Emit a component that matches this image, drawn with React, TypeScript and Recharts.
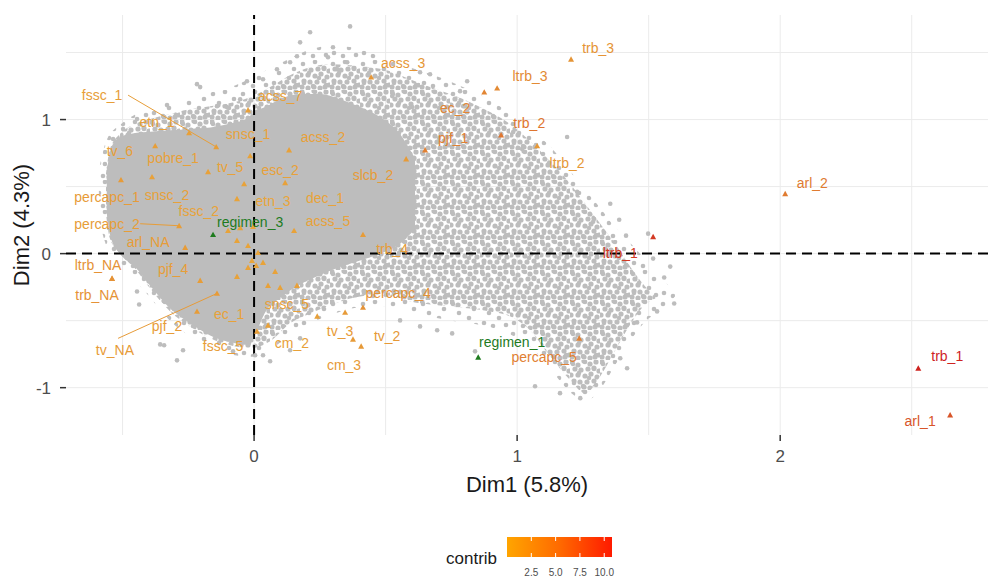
import React from 'react';
import { ComposedChart, XAxis, YAxis, CartesianGrid, Area, Scatter, ReferenceLine } from 'recharts';

const FONT = '"Liberation Sans", Arial, sans-serif';

// individuals cloud, dense core: x -> [low, high]
const coreX = [-0.56, -0.545, -0.51, -0.452, -0.395, -0.319, -0.243, -0.167, -0.091, -0.034, 0.004, 0.042, 0.099, 0.175, 0.251, 0.327, 0.403, 0.479, 0.555, 0.612];
const coreLow = [0.3, 0.12, 0.0, -0.1, -0.24, -0.41, -0.52, -0.61, -0.66, -0.68, -0.6, -0.44, -0.33, -0.23, -0.16, -0.1, -0.052, 0.0, 0.074, 0.186];
const coreHigh = [0.6, 0.78, 0.87, 0.9, 0.91, 0.92, 0.93, 0.94, 0.97, 1.0, 1.06, 1.093, 1.152, 1.19, 1.19, 1.152, 1.093, 1.019, 0.892, 0.706];

// individuals cloud, body around the core
const bodyX = [-0.563, -0.548, -0.51, -0.452, -0.395, -0.319, -0.243, -0.167, -0.091, -0.015, 0.061, 0.137, 0.213, 0.289, 0.365, 0.441, 0.517, 0.593, 0.669, 0.745, 0.821, 0.897, 0.973, 1.049, 1.125, 1.202, 1.259, 1.316, 1.373, 1.43, 1.487, 1.525];
const bodyLow = [0.297, 0.112, 0.0, -0.112, -0.26, -0.431, -0.543, -0.632, -0.684, -0.706, -0.654, -0.52, -0.446, -0.387, -0.335, -0.312, -0.312, -0.357, -0.379, -0.394, -0.409, -0.431, -0.468, -0.572, -0.766, -0.944, -1.041, -0.914, -0.721, -0.528, -0.379, -0.335];
const bodyHigh = [0.595, 0.781, 0.892, 0.967, 1.004, 1.041, 1.078, 1.1, 1.123, 1.167, 1.242, 1.331, 1.39, 1.413, 1.405, 1.39, 1.361, 1.301, 1.242, 1.19, 1.13, 1.056, 0.967, 0.84, 0.691, 0.52, 0.372, 0.223, 0.074, -0.097, -0.245, -0.32];

// thin outer fringe of the cloud
const fringeX = [-0.59, -0.56, -0.51, -0.45, -0.39, -0.32, -0.24, -0.17, -0.09, -0.02, 0.06, 0.14, 0.21, 0.29, 0.37, 0.44, 0.52, 0.59, 0.67, 0.75, 0.82, 0.9, 0.97, 1.05, 1.13, 1.2, 1.26, 1.32, 1.37, 1.43, 1.49, 1.55, 1.6];
const fringeLow = [0.25, 0.05, -0.07, -0.2, -0.34, -0.5, -0.62, -0.7, -0.75, -0.77, -0.72, -0.6, -0.52, -0.46, -0.41, -0.39, -0.4, -0.44, -0.47, -0.5, -0.52, -0.55, -0.6, -0.69, -0.87, -1.03, -1.1, -1.0, -0.84, -0.65, -0.5, -0.42, -0.32];
const fringeHigh = [0.62, 0.85, 0.96, 1.04, 1.08, 1.12, 1.16, 1.2, 1.24, 1.3, 1.38, 1.46, 1.52, 1.55, 1.54, 1.5, 1.44, 1.39, 1.34, 1.28, 1.22, 1.14, 1.05, 0.93, 0.79, 0.62, 0.47, 0.33, 0.2, 0.08, -0.05, -0.18, -0.3];

// stray individuals around the cloud
const strayX = [0.365, 0.213, 0.175, 0.3, 0.281, 0.163, 0.137, 0.087, 0.034, -0.027, 0.316, 0.354, -0.103, -0.141, -0.053, -0.217, -0.205, -0.331, -0.445, -0.498, -0.536, -0.567, 0.525, 0.631, 0.669, 0.81, 0.783, 0.601, 0.795, 0.985, 1.019, 1.19, 1.228, 1.289, 1.354, 1.388, 1.414, 1.498, 1.517, 1.582, 1.559, 1.597, 1.532, 1.456, 1.392, 1.418, 1.24, 1.163, 1.068, 0.84, 0.753, 0.696, 0.631, 0.555, -0.445, -0.437, -0.357, -0.342, -0.27, -0.293, -0.08, 0.004, 0.034, 0.061, 0.137, 0.175];
const strayY = [1.695, 1.651, 1.576, 1.539, 1.465, 1.472, 1.428, 1.375, 1.301, 1.286, 1.375, 1.428, 1.093, 1.1, 1.152, 1.264, 1.242, 1.108, 1.004, 0.929, 0.855, 0.669, 1.175, 1.353, 1.338, 1.286, 1.212, 1.093, 1.1, 0.907, 0.781, 0.87, 0.461, 0.238, 0.372, 0.253, 0.134, 0.149, -0.037, -0.097, -0.178, -0.372, -0.431, -0.513, -0.781, -0.855, -1.078, -1.041, -0.989, -0.729, -0.595, -0.572, -0.543, -0.498, -0.283, -0.379, -0.677, -0.684, -0.721, -0.796, -0.729, -0.758, -0.758, -0.803, -0.721, -0.632];

// variable categories
const catNames = ['fssc_1', 'etn_1', 'tv_6', 'pobre_1', 'snsc_2', 'percapc_1', 'snsc_1', 'acss_7', 'tv_5', 'esc_2', 'acss_2', 'etn_3', 'dec_1', 'fssc_2', 'percapc_2', 'acss_5', 'arl_NA', 'slcb_2', 'acss_3', 'ec_2', 'ltrb_3', 'pjf_1', 'trb_2', 'ltrb_2', 'trb_3', 'trb_4', 'ltrb_1', 'arl_2', 'trb_1', 'arl_1', 'percapc_5', 'percapc_4', 'tv_3', 'tv_2', 'cm_3', 'cm_2', 'snsc_5', 'ec_1', 'fssc_5', 'pjf_2', 'tv_NA', 'pjf_4', 'ltrb_NA', 'trb_NA'];
const catX = [-0.144, -0.247, -0.376, -0.175, -0.388, -0.506, -0.015, -0.023, -0.038, 0.118, 0.133, -0.004, -0.065, -0.099, -0.285, 0.152, -0.262, 0.578, 0.445, 0.875, 0.924, 0.65, 0.939, 1.076, 1.205, 0.414, 1.517, 2.019, 2.525, 2.646, 1.236, 0.414, 0.346, 0.407, 0.376, 0.053, 0.163, -0.065, 0.011, -0.217, -0.141, -0.205, -0.54, -0.54];
const catY = [0.796, 0.9, 0.803, 0.61, 0.572, 0.55, 0.729, 1.071, 0.52, 0.528, 0.773, 0.201, 0.409, 0.171, 0.208, 0.171, 0.045, 0.706, 1.316, 1.204, 1.234, 0.773, 0.885, 0.803, 1.45, 0.141, 0.126, 0.446, -0.855, -1.204, -0.632, -0.401, -0.439, -0.691, -0.639, -0.535, -0.238, -0.171, -0.58, -0.431, -0.297, -0.201, -0.186, -0.186];
const catContrib = [0.6, 0.5, 0.6, 0.4, 0.4, 0.9, 0.3, 0.5, 0.3, 0.4, 0.4, 0.1, 0.2, 0.2, 0.7, 0.3, 0.8, 0.9, 1.2, 2.6, 2.2, 3.0, 3.8, 1.1, 1.4, 0.8, 8.6, 3.4, 10.4, 6.4, 3.0, 1.6, 0.9, 1.0, 0.9, 0.4, 0.5, 0.3, 0.6, 0.8, 0.9, 0.7, 1.6, 1.6];
const catLabelX = [-0.578, -0.369, -0.51, -0.308, -0.331, -0.559, -0.023, 0.099, -0.091, 0.099, 0.262, 0.072, 0.27, -0.21, -0.559, 0.281, -0.403, 0.452, 0.567, 0.764, 1.049, 0.757, 1.046, 1.19, 1.308, 0.525, 1.392, 2.122, 2.635, 2.532, 1.103, 0.548, 0.327, 0.506, 0.342, 0.144, 0.125, -0.095, -0.118, -0.331, -0.529, -0.308, -0.593, -0.597];
const catLabelY = [1.182, 0.981, 0.766, 0.714, 0.439, 0.424, 0.892, 1.175, 0.647, 0.625, 0.87, 0.394, 0.416, 0.32, 0.223, 0.245, 0.089, 0.587, 1.42, 1.086, 1.323, 0.862, 0.974, 0.677, 1.532, 0.037, 0.007, 0.528, -0.766, -1.249, -0.775, -0.297, -0.58, -0.617, -0.833, -0.669, -0.379, -0.454, -0.691, -0.543, -0.721, -0.119, -0.082, -0.312];

// categories drawn without a label (overlaps)
const unlabeledX = [-0.053, -0.065, -0.023, -0.008, 0.008, -0.023, 0.034, 0.08, 0.053, 0.099, 0.24, 0.015];
const unlabeledY = [0.193, 0.097, 0.059, -0.052, -0.089, -0.104, -0.067, -0.134, -0.238, -0.253, -0.468, 0.007];
const unlabeledContrib = [0.3, 0.2, 0.2, 0.1, 0.2, 0.3, 0.2, 0.3, 0.4, 0.3, 0.5, 0.1];

// supplementary categories
const supNames = ['regimen_3', 'regimen_1'];
const supX = [-0.156, 0.852];
const supY = [0.141, -0.773];
const supLabelX = [-0.015, 0.981];
const supLabelY = [0.235, -0.66];

// repel leader lines: label end -> category
const leaderNames = ['fssc_1', 'percapc_2', 'tv_NA'];
const leaderFromX = [-0.479, -0.433, -0.517];
const leaderFromY = [1.182, 0.223, -0.632];

const xTicks = [0, 1, 2];
const yTicks = [-1, 0, 1];
const xGrid = [-0.5, 0, 0.5, 1, 1.5, 2, 2.5];
const yGrid = [-1, -0.5, 0, 0.5, 1, 1.5];
const legendTicks = [2.5, 5.0, 7.5, 10.0];
const legendRange = [0, 10.8];

const LOW = [233, 166, 58];
const HIGH = [205, 30, 30];
function contribColor(c: number) {
  const t = Math.max(0, Math.min(1, c / legendRange[1]));
  const ch = LOW.map((v, i) => Math.round(v + (HIGH[i] - v) * t));
  return `rgb(${ch.join(',')})`;
}

const coreData = coreX.map((x, i) => ({ x, band: [coreLow[i], coreHigh[i]] }));
const bodyData = bodyX.map((x, i) => ({ x, band: [bodyLow[i], bodyHigh[i]] }));
const fringeData = fringeX.map((x, i) => ({ x, band: [fringeLow[i], fringeHigh[i]] }));
const strayData = strayX.map((x, i) => ({ x, y: strayY[i] }));
const catData = catNames.map((name, i) => ({ name, x: catX[i], y: catY[i], color: contribColor(catContrib[i]) }));
const catLabelData = catNames.map((name, i) => ({ name, x: catLabelX[i], y: catLabelY[i], color: contribColor(catContrib[i]) }));
const unlabeledData = unlabeledX.map((x, i) => ({ x, y: unlabeledY[i], color: contribColor(unlabeledContrib[i]) }));
const supData = supNames.map((name, i) => ({ name, x: supX[i], y: supY[i], color: '#1e7b1e' }));
const supLabelData = supNames.map((name, i) => ({ name, x: supLabelX[i], y: supLabelY[i], color: '#1e7b1e' }));

const Triangle = (props: any) => {
  const { cx, cy, payload } = props;
  const s = 3;
  return <path d={`M${cx},${cy - s}L${cx + s},${cy + s * 0.8}L${cx - s},${cy + s * 0.8}Z`} fill={payload.color} />;
};

const Dot = (props: any) => <circle cx={props.cx} cy={props.cy} r={2.3} fill="#bdbdbd" />;

const TextMark = (props: any) => (
  <text x={props.cx} y={props.cy} dy="0.35em" textAnchor="middle" fontSize={14} fontFamily={FONT} fill={props.payload.color}>
    {props.payload.name}
  </text>
);

// dot textures for the looser parts of the cloud
const denseSpots = [[2, 2], [8, 5], [14, 1], [20, 4], [26, 2], [5, 9], [11, 10], [18, 9], [24, 8], [29, 11], [1, 15], [8, 15], [15, 16], [21, 14], [27, 17], [4, 21], [10, 22], [17, 22], [24, 21], [29, 25], [2, 27], [8, 28], [14, 27], [20, 28], [25, 27]];
const sparseSpots = [[3, 4], [15, 2], [24, 9], [9, 13], [19, 18], [4, 23], [13, 26], [26, 25]];

function Legend() {
  const x0 = 507, x1 = 612, y0 = 537, y1 = 557;
  const pos = (v: number) => x0 + ((v - legendRange[0]) / (legendRange[1] - legendRange[0])) * (x1 - x0);
  return (
    <svg width={990} height={580} style={{ position: 'absolute', left: 0, top: 0, pointerEvents: 'none' }}>
      <defs>
        <linearGradient id="contribGrad" x1="0" x2="1" y1="0" y2="0">
          <stop offset="0" stopColor="#ffa500" />
          <stop offset="0.5" stopColor="#ff6a00" />
          <stop offset="1" stopColor="#ff1a00" />
        </linearGradient>
      </defs>
      <text x={446} y={564} fontSize={17} fontFamily={FONT} fill="#1a1a1a">contrib</text>
      <rect x={x0} y={y0} width={x1 - x0} height={y1 - y0} fill="url(#contribGrad)" />
      {legendTicks.map((t) => (
        <g key={t}>
          <line x1={pos(t)} x2={pos(t)} y1={y0} y2={y0 + 4} stroke="#fff" strokeWidth={1} />
          <line x1={pos(t)} x2={pos(t)} y1={y1 - 4} y2={y1} stroke="#fff" strokeWidth={1} />
          <text x={pos(t)} y={576} textAnchor="middle" fontSize={10} fontFamily={FONT} fill="#4d4d4d">{t.toFixed(1)}</text>
        </g>
      ))}
    </svg>
  );
}

export default function App() {
  return (
    <div style={{ position: 'absolute', left: 0, top: 0, width: 990, height: 580, background: '#fff' }}>
      <svg width={0} height={0} style={{ position: 'absolute' }}>
        <defs>
          <pattern id="cloudDense" width={30} height={30} patternUnits="userSpaceOnUse">
            {denseSpots.map(([px, py], i) => (
              <circle key={i} cx={px} cy={py} r={2.6} fill="#bdbdbd" />
            ))}
          </pattern>
          <pattern id="cloudSparse" width={30} height={30} patternUnits="userSpaceOnUse">
            {sparseSpots.map(([px, py], i) => (
              <circle key={i} cx={px} cy={py} r={2.3} fill="#bdbdbd" />
            ))}
          </pattern>
        </defs>
      </svg>
      <ComposedChart width={990} height={580} margin={{ top: 15, right: 2, left: 0, bottom: 85 }}>
        <CartesianGrid stroke="#ebebeb" horizontalValues={yGrid} verticalValues={xGrid} />
        <XAxis
          type="number"
          dataKey="x"
          domain={[-0.715, 2.79]}
          allowDataOverflow
          ticks={xTicks}
          axisLine={false}
          tickSize={6}
          tickMargin={9}
          tickLine={{ stroke: '#333', strokeWidth: 1.5 }}
          tick={{ fill: '#4d4d4d', fontSize: 17, fontFamily: FONT }}
          height={60}
          label={{ value: 'Dim1 (5.8%)', position: 'insideBottom', offset: 3, fill: '#1a1a1a', fontSize: 22, fontFamily: FONT }}
        />
        <YAxis
          type="number"
          dataKey="y"
          domain={[-1.353, 1.78]}
          allowDataOverflow
          ticks={yTicks}
          axisLine={false}
          tickSize={6}
          tickMargin={9}
          tickLine={{ stroke: '#333', strokeWidth: 1.5 }}
          tick={{ fill: '#4d4d4d', fontSize: 17, fontFamily: FONT }}
          width={66}
          label={{ value: 'Dim2 (4.3%)', angle: -90, position: 'insideLeft', offset: 21, fill: '#1a1a1a', fontSize: 22, fontFamily: FONT, style: { textAnchor: 'middle' } }}
        />
        <Area data={fringeData} dataKey="band" type="monotone" stroke="none" fill="url(#cloudSparse)" fillOpacity={1} isAnimationActive={false} dot={false} activeDot={false} />
        <Area data={bodyData} dataKey="band" type="monotone" stroke="none" fill="url(#cloudDense)" fillOpacity={1} isAnimationActive={false} dot={false} activeDot={false} />
        <Area data={coreData} dataKey="band" type="monotone" stroke="none" fill="#bdbdbd" fillOpacity={1} isAnimationActive={false} dot={false} activeDot={false} />
        <Scatter data={strayData} shape={Dot} isAnimationActive={false} />
        <ReferenceLine x={0} stroke="#000" strokeWidth={2} strokeDasharray="10 6" />
        <ReferenceLine y={0} stroke="#000" strokeWidth={2} strokeDasharray="10 6" />
        {leaderNames.map((name, i) => {
          const k = catNames.indexOf(name);
          return (
            <ReferenceLine
              key={name}
              segment={[{ x: leaderFromX[i], y: leaderFromY[i] }, { x: catX[k], y: catY[k] }]}
              stroke={contribColor(catContrib[k])}
              strokeWidth={1}
            />
          );
        })}
        <Scatter data={unlabeledData} shape={Triangle} isAnimationActive={false} />
        <Scatter data={catData} shape={Triangle} isAnimationActive={false} />
        <Scatter data={supData} shape={Triangle} isAnimationActive={false} />
        <Scatter data={catLabelData} shape={TextMark} isAnimationActive={false} />
        <Scatter data={supLabelData} shape={TextMark} isAnimationActive={false} />
      </ComposedChart>
      <Legend />
    </div>
  );
}
